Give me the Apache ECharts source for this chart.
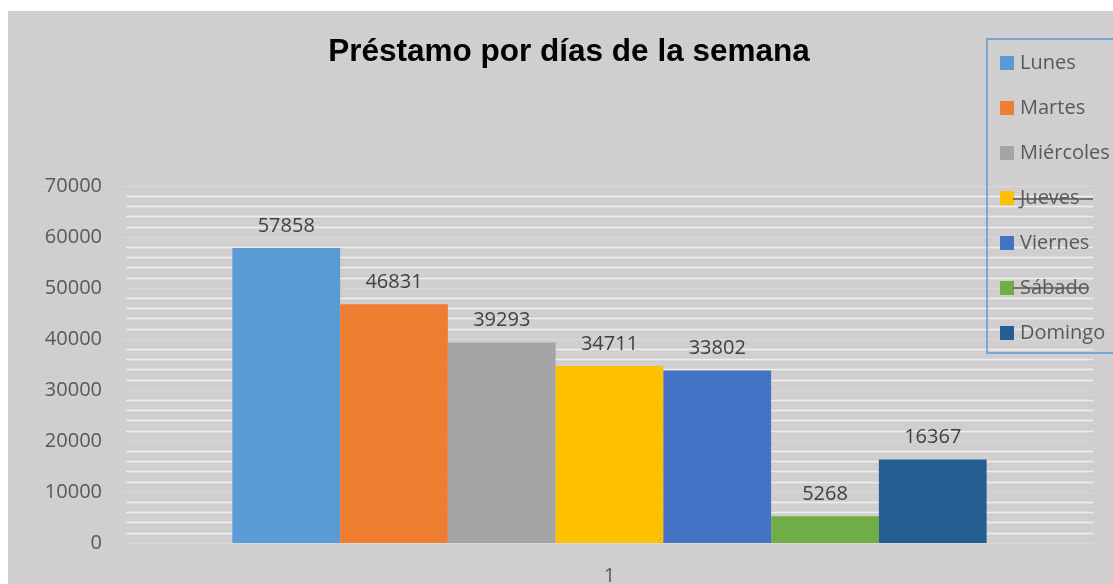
<!DOCTYPE html>
<html>
<head>
<meta charset="utf-8">
<script src="https://cdn.jsdelivr.net/npm/echarts@6/dist/echarts.min.js"></script>
<style>
  html, body { margin: 0; padding: 0; background: #fff; width: 1113px; height: 584px; overflow: hidden; }
  #chart { position: absolute; left: 8px; top: 11px; width: 1105px; height: 573px; }
</style>
</head>
<body>
<div id="chart"></div>
<script>
// datos del gráfico
const categories = ['1']
const dias = ['Lunes', 'Martes', 'Miércoles', 'Jueves', 'Viernes', 'Sábado', 'Domingo']
const prestamos = [57858, 46831, 39293, 34711, 33802, 5268, 16367]
const colores = ['#5b9bd5', '#ed7d31', '#a5a5a5', '#ffc000', '#4472c4', '#70ad47', '#255e91']

const fuente = '"Open Sans", "Noto Sans", sans-serif'

const series = dias.map((dia, i) => ({
  name: dia,
  type: 'bar',
  data: [prestamos[i]],
  itemStyle: { color: colores[i] },
  barGap: 0,
  barCategoryGap: '22%',
  label: {
    show: true,
    position: 'top',
    distance: 12,
    color: '#404040',
    fontSize: 20,
    fontFamily: fuente
  }
}))

const chart = echarts.init(document.getElementById('chart'))
chart.setOption({
  backgroundColor: '#d0cecf',
  animation: false,
  title: {
    text: 'Préstamo por días de la semana',
    left: 556,
    top: 20,
    textAlign: 'center',
    textStyle: { fontFamily: 'Arial, "Liberation Sans"', fontSize: 31.5, fontWeight: 'bold', color: '#000' }
  },
  legend: {
    orient: 'vertical',
    left: 987,
    top: 37,
    itemWidth: 14,
    itemHeight: 14,
    itemGap: 25,
    icon: 'rect',
    data: dias,
    textStyle: { fontFamily: fuente, fontSize: 20, color: '#595959', padding: [0, 0, 0, 1] }
  },
  grid: { left: 118, right: 20, top: 175, bottom: 41, outerBoundsMode: 'none' },
  xAxis: {
    type: 'category',
    data: categories,
    axisTick: { show: false },
    axisLine: { lineStyle: { color: '#d9d9d9' } },
    axisLabel: { margin: 23, fontSize: 20, color: '#595959', fontFamily: fuente }
  },
  yAxis: {
    type: 'value',
    min: 0,
    max: 70000,
    interval: 10000,
    axisLabel: { margin: 24, fontSize: 20, color: '#595959', fontFamily: fuente, formatter: v => String(v) },
    splitLine: { lineStyle: { color: '#d9d9d9', width: 1 } },
    minorTick: { show: false, splitNumber: 5 },
    minorSplitLine: { show: true, lineStyle: { color: '#eeeeee', width: 1.3 } }
  },
  graphic: [
    {
      type: 'rect',
      shape: { x: 979, y: 28, width: 200, height: 314 },
      style: { fill: null, stroke: '#5b9bd5', lineWidth: 1.5 },
      z: 10
    },
    {
      type: 'line',
      shape: { x1: 1005, y1: 188, x2: 1085, y2: 188 },
      style: { stroke: '#595959', lineWidth: 1.5 },
      z: 10
    },
    {
      type: 'line',
      shape: { x1: 1005, y1: 277, x2: 1081, y2: 277 },
      style: { stroke: '#595959', lineWidth: 1.5 },
      z: 10
    }
  ],
  series
})
</script>
</body>
</html>
